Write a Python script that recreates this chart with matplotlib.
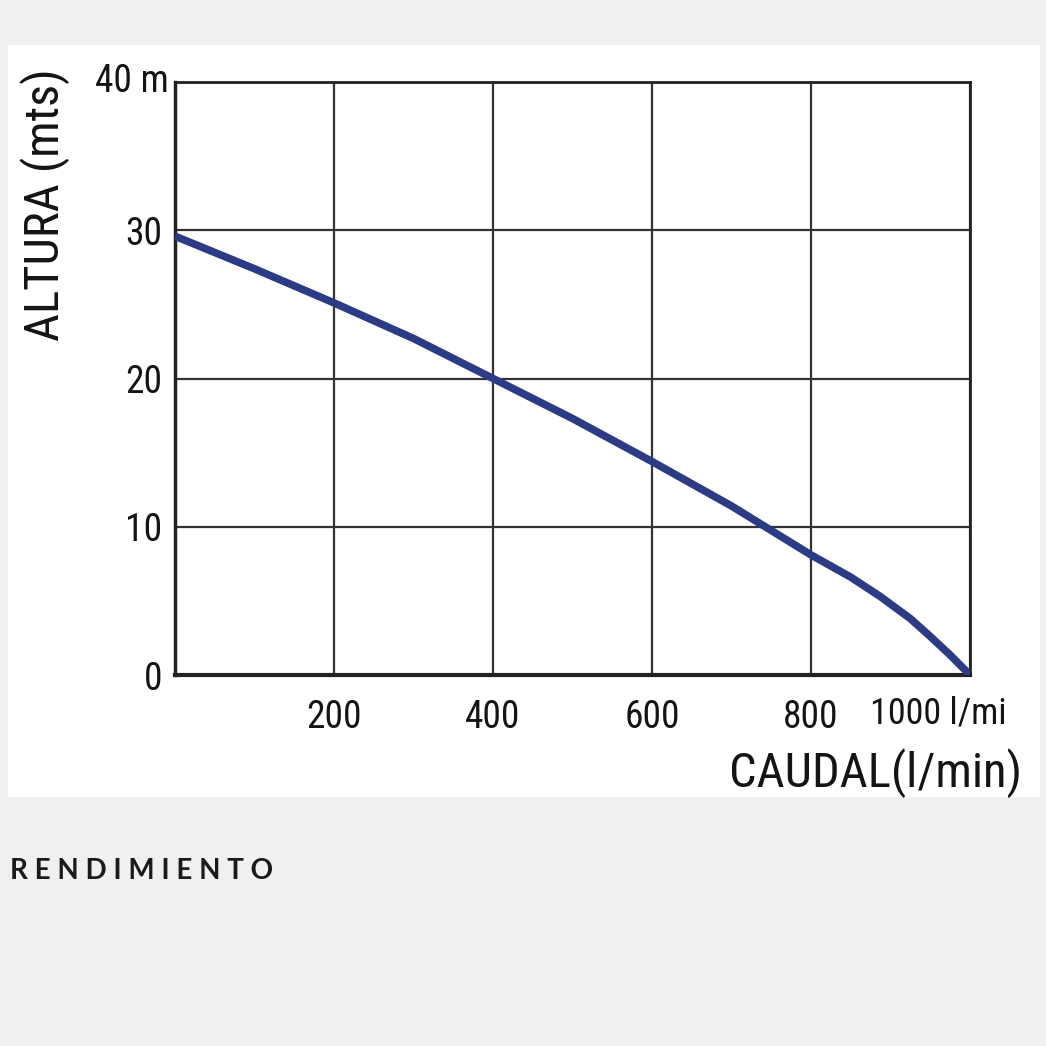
import matplotlib.pyplot as plt
from matplotlib.patches import Rectangle

# datos de la curva de rendimiento
caudal = [0, 100, 200, 300, 400, 500, 600, 700, 800, 850, 887, 925, 950, 975, 1000]
altura = [29.6, 27.4, 25.1, 22.7, 20.0, 17.3, 14.4, 11.4, 8.1, 6.6, 5.3, 3.8, 2.6, 1.35, 0.0]

x_ticks = [200, 400, 600, 800]
y_ticks = [0, 10, 20, 30]
y_labels = ["0", "10", "20", "30"]

narrow = ["Roboto Condensed", "Liberation Sans Narrow", "Roboto", "DejaVu Sans"]
txt_color = "#141414"

fig = plt.figure(figsize=(10.46, 10.46), dpi=100)
fig.patch.set_facecolor("#eef0f2")

# panel blanco
fig.patches.append(Rectangle((8 / 1046, 1 - 797 / 1046), 1032 / 1046, 752 / 1046,
                             transform=fig.transFigure, facecolor="white",
                             edgecolor="none", zorder=-5))

ax = fig.add_axes([175 / 1046, 1 - 675 / 1046, 795 / 1046, 593 / 1046])
ax.set_zorder(2)
ax.set_facecolor("white")
ax.set_xlim(0, 1000)
ax.set_ylim(0, 40)

ax.plot(caudal, altura, color="#2c3b85", lw=5.5, solid_capstyle="butt",
        solid_joinstyle="round", zorder=3)

ax.set_xticks(x_ticks + [1000])
ax.set_yticks(y_ticks + [40])
ax.set_xticklabels([str(v) for v in x_ticks] + [""])
ax.set_yticklabels(y_labels + [""])
ax.grid(True, color="#333333", lw=1.6)
ax.tick_params(axis="x", length=0, pad=17, labelsize=27, colors=txt_color)
ax.tick_params(axis="y", length=0, pad=9, labelsize=27, colors=txt_color)
for lab in ax.get_xticklabels() + ax.get_yticklabels():
    lab.set_family(narrow)
for s in ax.spines.values():
    s.set_color("#222222")
    s.set_linewidth(2)
ax.spines["bottom"].set_linewidth(3)
ax.spines["left"].set_linewidth(2.5)

ax.text(-8, 40, "40 m", ha="right", va="center", fontsize=27, family=narrow,
        color=txt_color)
ax.annotate("1000 l/mi", xy=(1000, 0), xytext=(37, -39), textcoords="offset pixels",
            ha="right", va="center", fontsize=26, family=narrow, color=txt_color,
            annotation_clip=False)

fig.text(45 / 1046, 1 - 205 / 1046, "ALTURA (mts)", rotation=90, ha="center", va="center",
         fontsize=35, family=narrow, color=txt_color)
fig.text(1022 / 1046, 1 - 773 / 1046, "CAUDAL(l/min)", ha="right", va="center",
         fontsize=35, family=narrow, color=txt_color)

fig.text(10 / 1046, 1 - 871 / 1046, "R E N D I M I E N T O", ha="left", va="center",
         fontsize=20, family=["Lato", "DejaVu Sans"], fontweight="bold",
         color="#1a1a1a")

fig.savefig("out.png", dpi=100, facecolor=fig.get_facecolor())
